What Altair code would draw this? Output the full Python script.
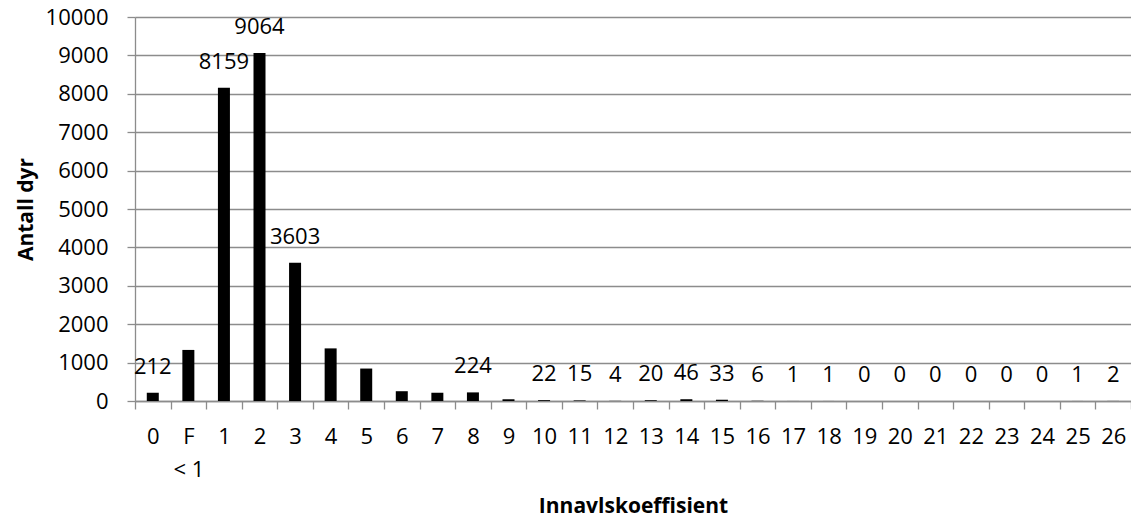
import altair as alt
import pandas as pd

categories = ["0", "F<1", "1", "2", "3", "4", "5", "6", "7", "8", "9", "10", "11", "12",
              "13", "14", "15", "16", "17", "18", "19", "20", "21", "22", "23", "24", "25", "26"]
counts = [212, 1330, 8159, 9064, 3603, 1370, 845, 255, 215, 224, 45, 22, 15, 4,
          20, 46, 33, 6, 1, 1, 0, 0, 0, 0, 0, 0, 1, 2]
value_labels = ["212", "", "8159", "9064", "3603", "", "", "", "", "224", "", "22", "15", "4",
                "20", "46", "33", "6", "1", "1", "0", "0", "0", "0", "0", "0", "1", "2"]
y_ticks = list(range(0, 10001, 1000))

df = pd.DataFrame({"cat": categories, "count": counts, "lab": value_labels})

FONT = "Open Sans"
GRID = "#8c8c8c"
FS = 22

x_enc = alt.X(
    "cat:N",
    sort=categories,
    scale=alt.Scale(paddingInner=0, paddingOuter=0),
    axis=alt.Axis(
        title="Innavlskoeffisient",
        titleFont=FONT, titleFontSize=21, titleFontWeight="bold", titleColor="black",
        titleX=498, titleY=105, titleBaseline="middle", titleAlign="center",
        labelAngle=0, labelFont=FONT, labelFontSize=FS, labelColor="black",
        labelPadding=17, labelLineHeight=33, labelOverlap=False,
        labelExpr="datum.value == 'F<1' ? ['F', '< 1'] : datum.value",
        tickBand="extent", tickSize=8, tickColor=GRID, tickWidth=1.3,
        domainColor=GRID, domainWidth=1.3, grid=False,
    ),
)

y_enc = alt.Y(
    "count:Q",
    scale=alt.Scale(domain=[0, 10000], nice=False),
    axis=alt.Axis(
        title="Antall dyr",
        titleFont=FONT, titleFontSize=21, titleFontWeight="bold", titleColor="black",
        titleX=-109, titleY=192, titleAngle=270, titleBaseline="middle", titleAlign="center",
        values=y_ticks, tickCount=11, format="d", labelOverlap=False,
        labelFont=FONT, labelFontSize=FS, labelColor="black",
        labelPadding=19, tickSize=8, tickColor=GRID, tickWidth=1.3,
        domainColor=GRID, domainWidth=1.3,
        grid=True, gridColor=GRID, gridWidth=1.3,
    ),
)

base = alt.Chart(df).encode(x=x_enc, y=y_enc)

bars = base.mark_bar(color="black", width=12)

texts = base.mark_text(
    font=FONT, fontSize=FS, color="black", dy=-26, baseline="middle", align="center"
).encode(text="lab:N")

chart = alt.layer(bars, texts).properties(
    width=996, height=384,
    autosize=alt.AutoSizeParams(type="none"),
    padding={"left": 135, "top": 17, "right": 0, "bottom": 119},
).configure_view(stroke=None)

chart.save("out.html", embed_options={"renderer": "svg", "actions": False})
